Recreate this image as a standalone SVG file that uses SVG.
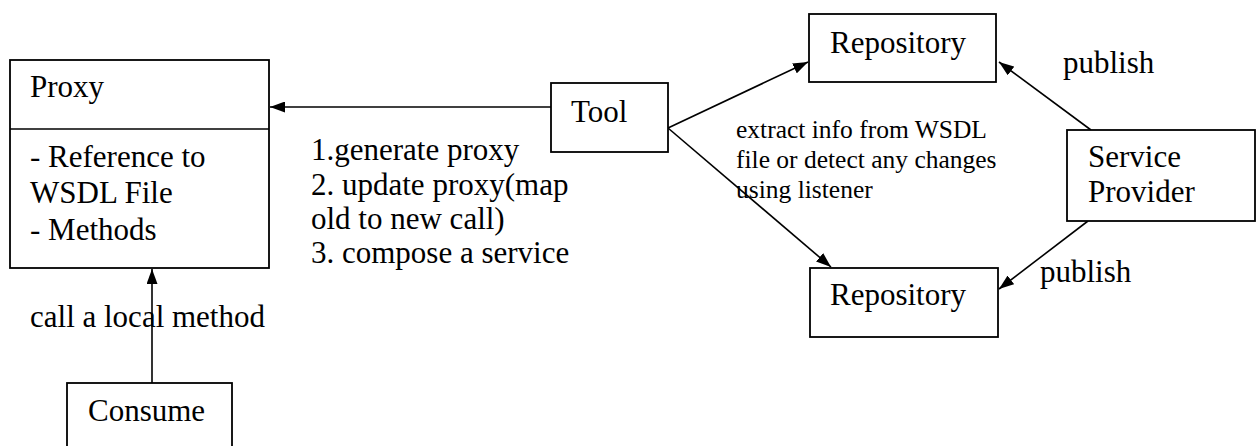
<svg xmlns="http://www.w3.org/2000/svg" width="1259" height="446" viewBox="0 0 1259 446">
  <style>
    .box { fill: #ffffff; stroke: #000000; stroke-width: 1.8; }
    .edge { fill: none; stroke: #000000; stroke-width: 1.6; }
    .lbl { font-family: "Liberation Serif", "Times New Roman", serif; font-size: 31px; fill: #000000; }
    .sm { font-family: "Liberation Serif", "Times New Roman", serif; font-size: 25.5px; fill: #000000; }
  </style>
  <defs>
    <marker id="arrow" markerUnits="userSpaceOnUse" markerWidth="15" markerHeight="11" refX="15" refY="5.5" orient="auto">
      <path d="M0,0 L15,5.5 L0,11 z" fill="#000000"/>
    </marker>
  </defs>
  <rect width="1259" height="446" fill="#ffffff"/>

  <!-- connectors -->
  <g id="connectors">
    <line class="edge" x1="551" y1="107" x2="270" y2="107" marker-end="url(#arrow)"/>
    <line class="edge" x1="668" y1="128" x2="808" y2="62" marker-end="url(#arrow)"/>
    <line class="edge" x1="668" y1="128" x2="831" y2="267" marker-end="url(#arrow)"/>
    <line class="edge" x1="1091" y1="130" x2="999" y2="62" marker-end="url(#arrow)"/>
    <line class="edge" x1="1088" y1="221" x2="999" y2="289" marker-end="url(#arrow)"/>
    <line class="edge" x1="152" y1="383" x2="152" y2="269" marker-end="url(#arrow)"/>
  </g>

  <!-- connector labels -->
  <g id="labels">
    <text class="lbl" x="311" y="160">1.generate proxy</text>
    <text class="lbl" x="311" y="195">2. update proxy(map</text>
    <text class="lbl" x="311" y="229">old to new call)</text>
    <text class="lbl" x="311" y="263">3. compose a service</text>
    <text class="sm" x="736" y="138">extract info from WSDL</text>
    <text class="sm" x="736" y="168">file or detect any changes</text>
    <text class="sm" x="736" y="198">using listener</text>
    <text class="lbl" x="1063" y="73">publish</text>
    <text class="lbl" x="1040" y="282">publish</text>
    <text class="lbl" x="30" y="327">call a local method</text>
  </g>

  <g id="proxy">
    <rect class="box" x="10" y="60" width="259" height="208"/>
    <line class="edge" x1="10" y1="129" x2="269" y2="129"/>
    <text class="lbl" x="30" y="97">Proxy</text>
    <text class="lbl" x="30" y="167">- Reference to</text>
    <text class="lbl" x="30" y="203">WSDL File</text>
    <text class="lbl" x="30" y="240">- Methods</text>
  </g>

  <g id="tool">
    <rect class="box" x="551" y="83" width="117" height="69"/>
    <text class="lbl" x="571" y="122">Tool</text>
  </g>

  <g id="repository-top">
    <rect class="box" x="809" y="14" width="187" height="68"/>
    <text class="lbl" x="830" y="53">Repository</text>
  </g>

  <g id="repository-bottom">
    <rect class="box" x="810" y="268" width="188" height="69"/>
    <text class="lbl" x="830" y="305">Repository</text>
  </g>

  <g id="service-provider">
    <rect class="box" x="1067" y="130" width="188" height="91"/>
    <text class="lbl" x="1088" y="167">Service</text>
    <text class="lbl" x="1088" y="202">Provider</text>
  </g>

  <g id="consume">
    <rect class="box" x="67" y="383" width="165" height="90"/>
    <text class="lbl" x="88" y="421">Consume</text>
  </g>
</svg>
